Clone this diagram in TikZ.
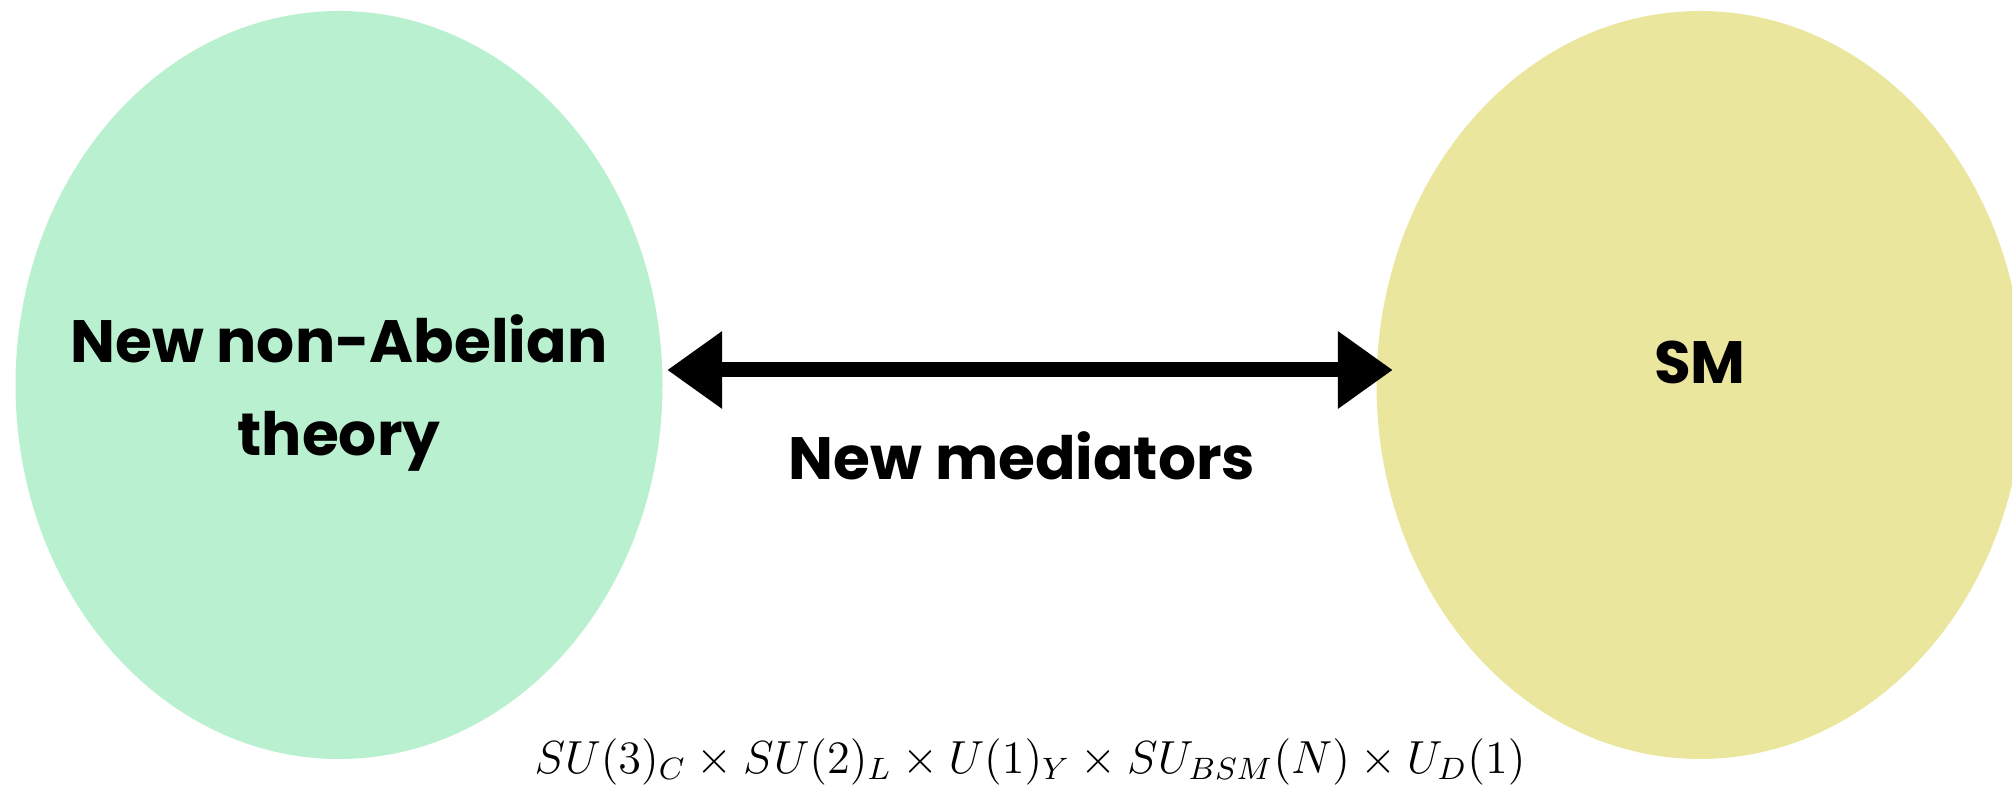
\documentclass[tikz,border=0pt]{standalone}
\usepackage{fontspec}
\setmainfont{Poppins}
\usepackage{tikz}
\usetikzlibrary{shapes.geometric, arrows.meta, positioning}
\definecolor{hiddengreen}{HTML}{B9F0D0}
\definecolor{smyellow}{HTML}{EAE69E}

\begin{document}
\begin{tikzpicture}[
        blob/.style={ellipse, minimum width=6.47cm, minimum height=7.48cm, inner sep=0pt},
        blobtext/.style={align=center, font=\fontsize{17}{26.5}\selectfont\bfseries},
        arrow/.style={{Triangle[length=0.55cm, width=0.74cm]}-{Triangle[length=0.55cm, width=0.74cm]}, line width=0.15cm}]
        \useasboundingbox (0,0) rectangle (20.12,-7.89);
        \node[blob, fill=hiddengreen, label={[blobtext, yshift=-0.08cm]center:New non-Abelian\\theory}] (nab) at (3.39,-3.85) {};
        \node[blob, fill=smyellow, label={[blobtext, yshift=0.23cm]center:SM}] (sm) at (17.00,-3.85) {};

        \draw[arrow, shorten <=0.04cm, shorten >=-0.17cm] ([yshift=0.15cm]nab.east) -- ([yshift=0.15cm]sm.west);
        \node[blobtext, anchor=base] (med) at (10.22,-4.80) {New mediators};
        \node[font=\fontsize{12}{15}\selectfont, anchor=base, scale=1.1, transform shape] (grp) at (10.30,-7.73) {$SU(3)_C\times SU(2)_L\times U(1)_Y\times SU_{BSM}(N)\times U_D(1)$};
    \end{tikzpicture}
\end{document}
